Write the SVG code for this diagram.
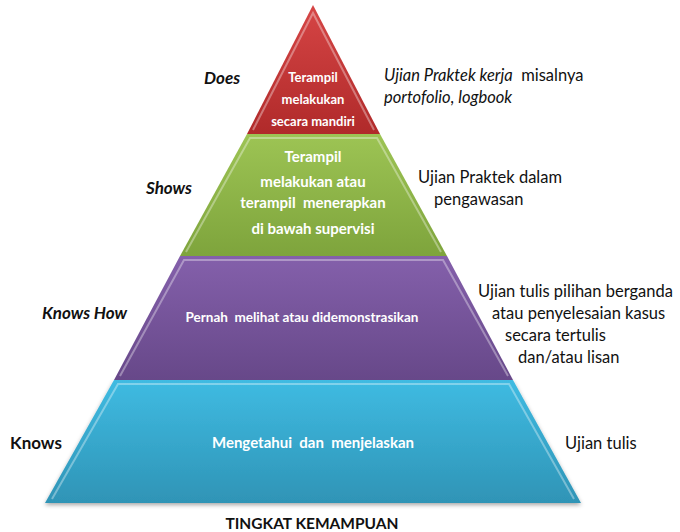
<svg xmlns="http://www.w3.org/2000/svg" width="680" height="532" viewBox="0 0 680 532">
<defs>
<linearGradient id="gRed" x1="0" y1="0" x2="0" y2="1"><stop offset="0" stop-color="#d64545"/><stop offset="1" stop-color="#b02a2a"/></linearGradient>
<linearGradient id="gGreen" x1="0" y1="0" x2="0" y2="1"><stop offset="0" stop-color="#9dc454"/><stop offset="1" stop-color="#7ea43c"/></linearGradient>
<linearGradient id="gPurple" x1="0" y1="0" x2="0" y2="1"><stop offset="0" stop-color="#8460ab"/><stop offset="1" stop-color="#674889"/></linearGradient>
<linearGradient id="gCyan" x1="0" y1="0" x2="0" y2="1"><stop offset="0" stop-color="#3fbbe2"/><stop offset="1" stop-color="#2f94b6"/></linearGradient>
<filter id="sh" x="-10%" y="-10%" width="120%" height="130%"><feDropShadow dx="0" dy="2" stdDeviation="2" flood-color="#000" flood-opacity="0.35"/></filter>
</defs>
<style>
text{font-family:Lato,"Open Sans","Liberation Sans",sans-serif}
.in{fill:#fff;font-weight:bold;text-anchor:middle}
.lab{fill:#111;font-weight:bold;font-style:italic;font-size:17px}
.lab2{fill:#111;font-weight:bold;font-size:17px}
.r{fill:#111;font-size:16.5px}
.it{font-style:italic}
.hl{fill:none;stroke:#fff;stroke-opacity:0.35;stroke-width:2}
</style>
<g id="tier-knows">
<polygon points="114,380 513,380 581,503 45,503" fill="url(#gCyan)" filter="url(#sh)"/>
<polyline class="hl" points="52,499 118,384 509,384 574,499"/>
<text class="in" x="313" y="448" font-size="15" xml:space="preserve">Mengetahui  dan  menjelaskan</text>
</g>
<g id="tier-knowshow">
<polygon points="180,256 447,256 513,380 114,380" fill="url(#gPurple)"/>
<polyline class="hl" points="120,376 184,260 443,260 508,376"/>
<text class="in" x="302" y="322" font-size="13.5" xml:space="preserve">Pernah  melihat atau didemonstrasikan</text>
</g>
<g id="tier-shows">
<polygon points="247,134 380,134 447,256 180,256" fill="url(#gGreen)"/>
<polyline class="hl" points="186,252 250,138 377,138 441,252"/>
<text class="in" x="313" y="162" font-size="15">Terampil</text>
<text class="in" x="313" y="187" font-size="15">melakukan atau</text>
<text class="in" x="313" y="208" font-size="15" xml:space="preserve">terampil  menerapkan</text>
<text class="in" x="313" y="234" font-size="15">di bawah supervisi</text>
</g>
<g id="tier-does">
<polygon points="313,5 380,134 247,134" fill="url(#gRed)"/>
<polyline class="hl" points="253,130 313,13 374,130"/>
<text class="in" x="313" y="82" font-size="13">Terampil</text>
<text class="in" x="313" y="104" font-size="13">melakukan</text>
<text class="in" x="313" y="126" font-size="13">secara mandiri</text>
</g>
<g id="labels">
<text class="lab" x="204" y="84">Does</text>
<text class="lab" x="146" y="194">Shows</text>
<text class="lab" x="42" y="319">Knows How</text>
<text class="lab2" x="10" y="449">Knows</text>
</g>
<g id="assessments">
<text class="r" x="384" y="81" font-size="17.8" xml:space="preserve"><tspan class="it">Ujian Praktek kerja</tspan>  misalnya</text>
<text class="r it" x="384" y="103" font-size="17.8">portofolio, logbook</text>
<text class="r" x="418" y="183">Ujian Praktek dalam</text>
<text class="r" x="434" y="205">pengawasan</text>
<text class="r" x="478" y="297">Ujian tulis pilihan berganda</text>
<text class="r" x="492" y="319">atau penyelesaian kasus</text>
<text class="r" x="505" y="341">secara tertulis</text>
<text class="r" x="518" y="363">dan/atau lisan</text>
<text class="r" x="565" y="449">Ujian tulis</text>
</g>
<text x="312" y="529" text-anchor="middle" font-size="15.5" font-weight="bold" fill="#111">TINGKAT KEMAMPUAN</text>
</svg>
